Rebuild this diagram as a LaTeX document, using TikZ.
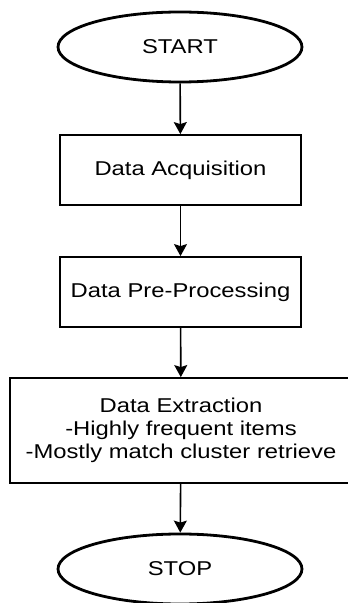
\documentclass[tikz,border=0pt]{standalone}
\usepackage{fontspec}
\setmainfont[FakeStretch=1.19]{Liberation Sans}
\usetikzlibrary{arrows.meta,shapes.geometric}

\tikzset{
  term/.style = {draw, ellipse, line width=2.8pt, minimum width=244pt, minimum height=70pt, inner sep=0pt},
  stepbox/.style = {draw, rectangle, line width=1.8pt, minimum width=241pt, minimum height=70pt, inner sep=0pt, align=center},
  flow/.style = {-{Stealth[width=13pt, length=12pt, inset=2pt]}, line width=1.6pt}
}

\begin{document}
\begin{tikzpicture}[x = 1pt, y = 1pt, font = \fontsize{20}{23}\selectfont]
\useasboundingbox (0, 0) rectangle (348, 603);

\node[term] (start) at (180, 556) {START};
\node[stepbox] (acq) at (180.5, 433) {Data Acquisition};
\node[stepbox] (pre) at (180.5, 311) {Data Pre-Processing};
\node[stepbox, minimum width=342pt, minimum height=105pt] (ext) at (181, 172.5)
  {Data Extraction\\-Highly frequent items\\-Mostly match cluster retrieve};
\node[term] (stop) at (180, 34) {STOP};

\draw[flow] (start) -- (acq);
\draw[flow] (acq) -- (pre);
\draw[flow] (pre) -- (ext);
\draw[flow] (ext) -- (stop);
\end{tikzpicture}
\end{document}
